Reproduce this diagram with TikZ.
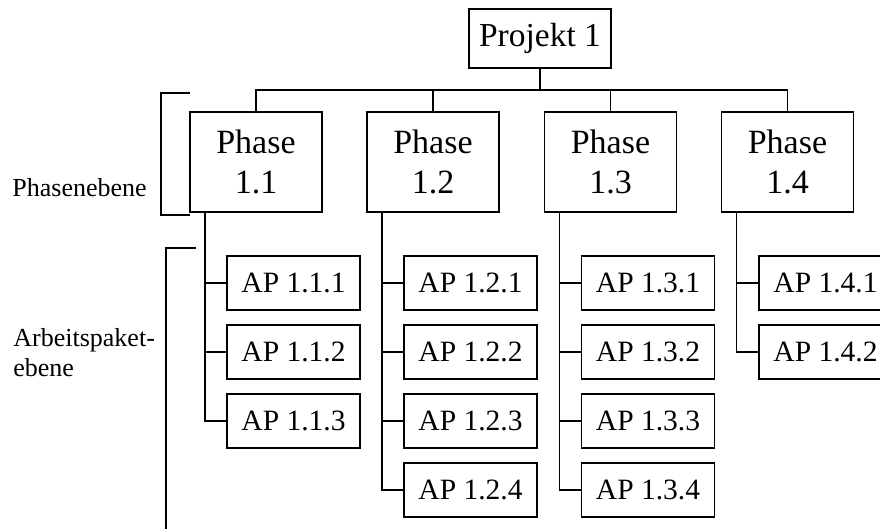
\documentclass[tikz,border=0pt]{standalone}
\usepackage{fontspec}
\setmainfont{Liberation Serif}
\usetikzlibrary{positioning}
\tikzstyle{projbox} = [rectangle, 
draw=black, line width=0.6pt, 
minimum width=71pt, 
minimum height=29.5pt, 
inner sep=0pt, outer sep=0pt,
font=\fontsize{16.75}{20}\selectfont]
\tikzstyle{phasebox} = [rectangle, 
draw=black, line width=0.6pt, 
minimum width=66pt, 
minimum height=50pt, 
inner sep=0pt, outer sep=0pt, align=center,
font=\fontsize{17}{20}\selectfont]
\tikzstyle{apbox} = [rectangle, 
draw=black, line width=0.6pt, 
minimum width=66.5pt, 
minimum height=27pt, 
inner sep=0pt, outer sep=0pt,
font=\fontsize{14.75}{17}\selectfont]
\tikzstyle{conn} = [line width=0.6pt]
\tikzstyle{ebenetext} = [font=\fontsize{13}{15}\selectfont, align=left, inner sep=0pt]

\begin{document}
\begin{tikzpicture}[x=0.5pt, y=-0.5pt, node distance=34.5pt]
        \useasboundingbox (0,0) rectangle (880,529);
        \clip (0,0) rectangle (880,529);
        % top
        \node (proj) [projbox] at (540,38.5) {Projekt 1};
        \coordinate (bus) at (540,90);
        % phases
        \node (p11) [phasebox] at (256,162) {Phase\\1.1};
        \node (p12) [phasebox] at (433,162) {Phase\\1.2};
        \node (p13) [phasebox] at (610.5,162) {Phase\\1.3};
        \node (p14) [phasebox] at (787.5,162) {Phase\\1.4};
        % work packages
        \node (a111) [apbox] at (293.5,283) {AP 1.1.1};
        \node (a112) [apbox, below of=a111] {AP 1.1.2};
        \node (a113) [apbox, below of=a112] {AP 1.1.3};
        \node (a121) [apbox] at (470.5,283) {AP 1.2.1};
        \node (a122) [apbox, below of=a121] {AP 1.2.2};
        \node (a123) [apbox, below of=a122] {AP 1.2.3};
        \node (a124) [apbox, below of=a123] {AP 1.2.4};
        \node (a131) [apbox] at (648,283) {AP 1.3.1};
        \node (a132) [apbox, below of=a131] {AP 1.3.2};
        \node (a133) [apbox, below of=a132] {AP 1.3.3};
        \node (a134) [apbox, below of=a133] {AP 1.3.4};
        \node (a141) [apbox] at (825.5,283) {AP 1.4.1};
        \node (a142) [apbox, below of=a141] {AP 1.4.2};
        % tree lines
        \draw [conn] (proj.south) -- (bus);
        \draw [conn] (p11.north) -- (p11.north |- bus) -| (p14.north);
        \draw [conn] (p12.north) -- (p12.north |- bus);
        \draw [conn] (p13.north) -- (p13.north |- bus);
        \coordinate (s11) at ([xshift=7.5pt]p11.south west);
        \coordinate (s12) at ([xshift=7.5pt]p12.south west);
        \coordinate (s13) at ([xshift=7.5pt]p13.south west);
        \coordinate (s14) at ([xshift=7.5pt]p14.south west);
        \draw [conn] (s11) |- (a113.west);
        \draw [conn] (a111.west) -- (a111.west -| s11);
        \draw [conn] (a112.west) -- (a112.west -| s11);
        \draw [conn] (s12) |- (a124.west);
        \draw [conn] (a121.west) -- (a121.west -| s12);
        \draw [conn] (a122.west) -- (a122.west -| s12);
        \draw [conn] (a123.west) -- (a123.west -| s12);
        \draw [conn] (s13) |- (a134.west);
        \draw [conn] (a131.west) -- (a131.west -| s13);
        \draw [conn] (a132.west) -- (a132.west -| s13);
        \draw [conn] (a133.west) -- (a133.west -| s13);
        \draw [conn] (s14) |- (a142.west);
        \draw [conn] (a141.west) -- (a141.west -| s14);
        % levels
        \node (phebene) [ebenetext, anchor=west] at (12,188) {Phasenebene};
        \node (apebene) [ebenetext, anchor=west] at (13,353) {Arbeitspaket-\\ebene};
        \draw [conn] (190,93) -- (161,93) -- (161,215) -- (190,215);
        \draw [conn] (196,248) -- (166,248) -- (166,540);
    \end{tikzpicture}
\end{document}
